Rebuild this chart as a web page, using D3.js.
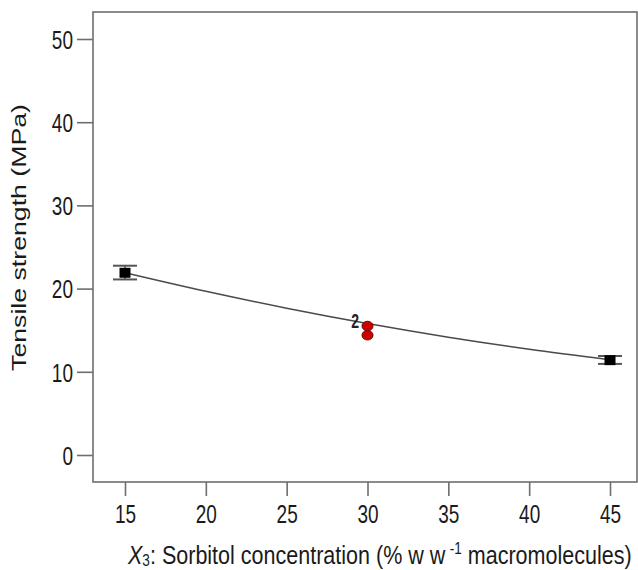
<!DOCTYPE html>
<html>
<head>
<meta charset="utf-8">
<script src="https://cdn.jsdelivr.net/npm/d3@7"></script>
<style>
  html, body { margin: 0; padding: 0; background: #fff; }
  svg { display: block; }
  text { font-family: "Liberation Sans", Arial, sans-serif; }
</style>
</head>
<body>
<svg id="chart" width="638" height="570"></svg>
<script>
// ---- data ----
const xTicks = [15, 20, 25, 30, 35, 40, 45];
const yTicks = [0, 10, 20, 30, 40, 50];

// design points with error bars (black squares)
const designX = [15, 45];
const designY = [21.9, 11.4];
const designLow = [21.1, 10.95];
const designHigh = [22.75, 11.9];

// centre point replicates (red)
const centerX = [30, 30];
const centerY = [15.5, 14.4];
const centerLabel = "2";

// model prediction curve
const curveX = [15, 20, 25, 30, 35, 40, 45];
const curveY = [21.9, 19.67, 17.64, 15.8, 14.16, 12.71, 11.45];

const xTitleVar = "X";
const xTitleSub = "3";
const xTitleRest = ": Sorbitol concentration (% w w\u2009";
const xTitleSup = "-1";
const xTitleEnd = " macromolecules)";
const yTitle = "Tensile strength (MPa)";

// ---- layout ----
const pL = 93, pR = 637, pT = 12, pB = 482;
const svg = d3.select("#chart");
const textColor = "#1a1a1a";
const frameColor = "#6e6e6e";
const stretch = 1.34; // vertical stretch of the reference's horizontal texts

const x = d3.scaleLinear()
  .domain([15 - 32 / (485 / 30), 45 + 27 / (485 / 30)])
  .range([pL, pR]);
const y = d3.scaleLinear()
  .domain([-27 / 8.32, 50 + 27 / 8.32])
  .range([pB, pT]);

// frame
svg.append("rect")
  .attr("x", pL).attr("y", pT)
  .attr("width", pR - pL).attr("height", pB - pT)
  .attr("fill", "none").attr("stroke", frameColor).attr("stroke-width", 1.6);

// axes
const xAxis = svg.append("g")
  .attr("transform", `translate(0,${pB})`)
  .call(d3.axisBottom(x).tickValues(xTicks).tickSize(14).tickFormat(d3.format("d")));
const yAxis = svg.append("g")
  .attr("transform", `translate(${pL},0)`)
  .call(d3.axisLeft(y).tickValues(yTicks).tickSize(16).tickFormat(d3.format("d")));

[xAxis, yAxis].forEach(g => {
  g.select(".domain").remove();
  g.attr("font-family", null).attr("font-size", null);
  g.selectAll(".tick line").attr("stroke", frameColor).attr("stroke-width", 1.6);
  g.selectAll(".tick text")
    .attr("fill", textColor)
    .attr("font-size", 19)
    .attr("x", 0).attr("y", 0).attr("dy", null);
});
xAxis.selectAll(".tick text")
  .attr("text-anchor", "middle")
  .attr("transform", `translate(0,41) scale(1,${stretch})`);
yAxis.selectAll(".tick text")
  .attr("text-anchor", "end")
  .attr("transform", `translate(-20,9.3) scale(1,${stretch})`);

// model curve
const line = d3.line()
  .x((d, i) => x(curveX[i]))
  .y(d => y(d))
  .curve(d3.curveMonotoneX);
svg.append("path")
  .datum(curveY)
  .attr("d", line)
  .attr("fill", "none")
  .attr("stroke", "#4a4a4a")
  .attr("stroke-width", 1.5);

// error bars
const eb = svg.append("g");
designX.forEach((xv, i) => {
  const cx = x(xv);
  eb.append("line")
    .attr("x1", cx).attr("x2", cx)
    .attr("y1", y(designLow[i])).attr("y2", y(designHigh[i]))
    .attr("stroke", "#555").attr("stroke-width", 1.5);
  [designLow[i], designHigh[i]].forEach(v => {
    eb.append("line")
      .attr("x1", cx - 12).attr("x2", cx + 12)
      .attr("y1", y(v)).attr("y2", y(v))
      .attr("stroke", "#555").attr("stroke-width", 2);
  });
  eb.append("rect")
    .attr("x", cx - 5.5).attr("y", y(designY[i]) - 5)
    .attr("width", 11).attr("height", 10)
    .attr("fill", "#000");
});

// centre points
svg.append("g").selectAll("ellipse")
  .data(centerY)
  .join("ellipse")
  .attr("cx", (d, i) => x(centerX[i]))
  .attr("cy", d => y(d))
  .attr("rx", 5.5).attr("ry", 4.8)
  .attr("fill", "#cc0000")
  .attr("stroke", "#7a0000")
  .attr("stroke-width", 1);

svg.append("text")
  .attr("transform", `translate(${x(centerX[0]) - 8.5},${y(d3.max(centerY)) + 2}) scale(1,1.45)`)
  .attr("text-anchor", "end")
  .attr("font-weight", "bold")
  .attr("font-size", 14)
  .attr("fill", "#222")
  .text(centerLabel);

// y title
svg.append("text")
  .attr("transform", `translate(25.5,237.5) rotate(-90) scale(1.27,1)`)
  .attr("text-anchor", "middle")
  .attr("font-size", 21)
  .attr("fill", textColor)
  .text(yTitle);

// x title
const xtG = svg.append("g");
const xt = xtG.append("text")
  .attr("x", 0).attr("y", 0)
  .attr("text-anchor", "start")
  .attr("font-size", 19)
  .attr("fill", textColor);
xt.append("tspan").attr("font-style", "italic").text(xTitleVar);
xt.append("tspan").attr("font-size", 12).attr("dy", 2).text(xTitleSub);
xt.append("tspan").attr("dy", -2).text(xTitleRest);
xt.append("tspan").attr("font-size", 12).attr("dy", -7).text(xTitleSup);
xt.append("tspan").attr("dy", 7).text(xTitleEnd);
const w = xt.node().getComputedTextLength();
const targetW = 504, targetCap = 18.5;
xtG.attr("transform", `translate(128,563.5) scale(${targetW / w},${targetCap / (0.716 * 19)})`);
</script>
</body>
</html>
